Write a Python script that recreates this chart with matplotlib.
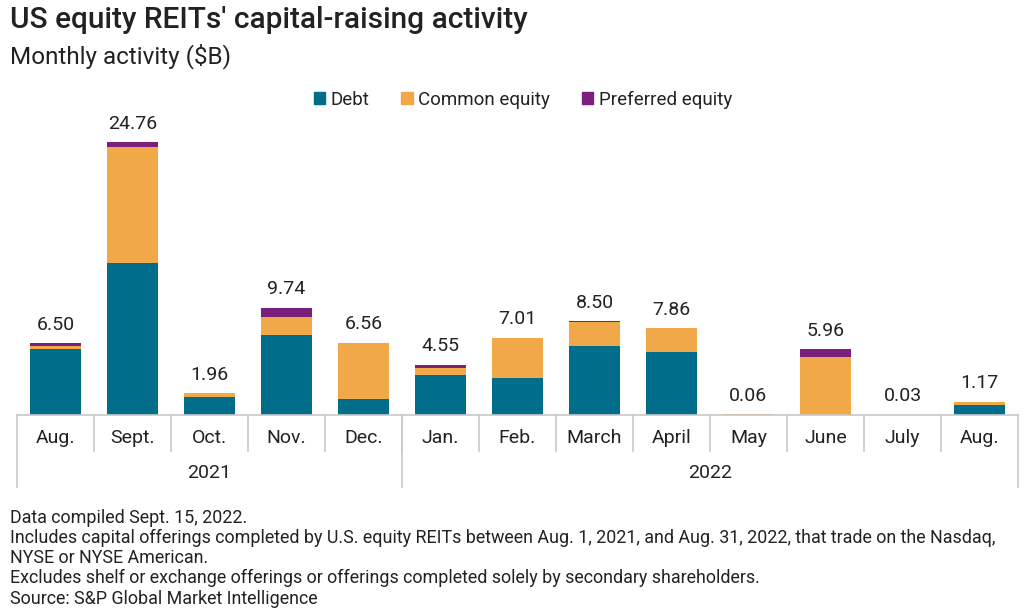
import matplotlib
matplotlib.use("Agg")
import matplotlib.pyplot as plt
from matplotlib.patches import Patch
import numpy as np

months = ["Aug.", "Sept.", "Oct.", "Nov.", "Dec.", "Jan.", "Feb.", "March",
          "April", "May", "June", "July", "Aug."]
years = ["2021", "2022"]
year_counts = [5, 8]
totals = [6.50, 24.76, 1.96, 9.74, 6.56, 4.55, 7.01, 8.50, 7.86, 0.06, 5.96, 0.03, 1.17]
debt = [5.97, 13.78, 1.66, 7.27, 1.48, 3.63, 3.33, 6.30, 5.72, 0.00, 0.00, 0.00, 0.91]
common = [0.30, 10.53, 0.30, 1.60, 5.08, 0.64, 3.68, 2.15, 2.14, 0.06, 5.30, 0.03, 0.26]
preferred = [0.23, 0.45, 0.00, 0.87, 0.00, 0.28, 0.00, 0.05, 0.00, 0.00, 0.66, 0.00, 0.00]

C_DEBT = "#006e8a"
C_COMMON = "#f0a848"
C_PREF = "#7a1f7e"
TXT = "#222222"
GRID = "#c8c8c8"

plt.rcParams['font.family'] = ['Roboto', 'DejaVu Sans']

W, H = 1027, 616
fig = plt.figure(figsize=(W / 100, H / 100), dpi=100)
ax_left, ax_right = 17, 1018
ax_base, ax_top = 415, 130
ax = fig.add_axes([ax_left / W, (H - ax_base) / H, (ax_right - ax_left) / W, (ax_base - ax_top) / H])
ymax = (ax_base - ax_top) / 11.01
x = np.arange(len(months))
bw = 0.675
d = np.array(debt); c = np.array(common); p = np.array(preferred)
ax.bar(x, d, bw, color=C_DEBT, label="Debt")
ax.bar(x, c, bw, bottom=d, color=C_COMMON, label="Common equity")
ax.bar(x, p, bw, bottom=d + c, color=C_PREF, label="Preferred equity")
ax.set_xlim(-0.5, len(months) - 0.5)
ax.set_ylim(0, ymax)
ax.axis("off")

for xi, t in zip(x, totals):
    ax.annotate(f"{t:.2f}", (xi, t), xytext=(0, 7), textcoords="offset points",
                ha="center", va="bottom", fontsize=14, color=TXT)

tr = ax.get_xaxis_transform()
ah = ax_base - ax_top
y_month = -(451 - ax_base) / ah
y_year = -(487 - ax_base) / ah
ax.plot([-0.5, len(months) - 0.5], [0, 0], transform=tr, color=GRID, lw=1.2, clip_on=False)
for i in range(1, len(months)):
    ax.plot([i - 0.5, i - 0.5], [0, y_month], transform=tr, color=GRID, lw=1.2, clip_on=False)
bounds = np.concatenate([[0], np.cumsum(year_counts)]) - 0.5
for b in bounds:
    ax.plot([b, b], [0, y_year], transform=tr, color=GRID, lw=1.2, clip_on=False)
for xi, m in zip(x, months):
    ax.text(xi, -(438 - ax_base) / ah, m, transform=tr, ha="center", va="center",
            fontsize=14, color=TXT)
for i, yr in enumerate(years):
    ax.text((bounds[i] + bounds[i + 1]) / 2, -(473 - ax_base) / ah, yr, transform=tr,
            ha="center", va="center", fontsize=14, color=TXT)

handles = [Patch(color=C_DEBT, label="Debt"), Patch(color=C_COMMON, label="Common equity"),
           Patch(color=C_PREF, label="Preferred equity")]
fig.legend(handles=handles, loc="center", bbox_to_anchor=(523 / W, 1 - 100 / H), ncol=3,
           frameon=False, fontsize=13.5, handlelength=0.6, handleheight=0.6,
           handletextpad=0.3, columnspacing=1.7, labelcolor=TXT)

fig.text(10 / W, 1 - 20 / H, "US equity REITs' capital-raising activity", fontsize=21.5,
         fontweight="medium", color=TXT, ha="left", va="center")
fig.text(10 / W, 1 - 56 / H, "Monthly activity ($B)", fontsize=17.5, color=TXT,
         ha="left", va="center")

notes = ["Data compiled Sept. 15, 2022.",
         "Includes capital offerings completed by U.S. equity REITs between Aug. 1, 2021, and Aug. 31, 2022, that trade on the Nasdaq,",
         "NYSE or NYSE American.",
         "Excludes shelf or exchange offerings or offerings completed solely by secondary shareholders.",
         "Source: S&P Global Market Intelligence"]
note_y = [518, 538, 558, 578, 599]
for n, yy in zip(notes, note_y):
    fig.text(10 / W, 1 - yy / H, n, fontsize=12.9, color=TXT, ha="left", va="center")

fig.savefig("out.png", dpi=100, facecolor="white")
